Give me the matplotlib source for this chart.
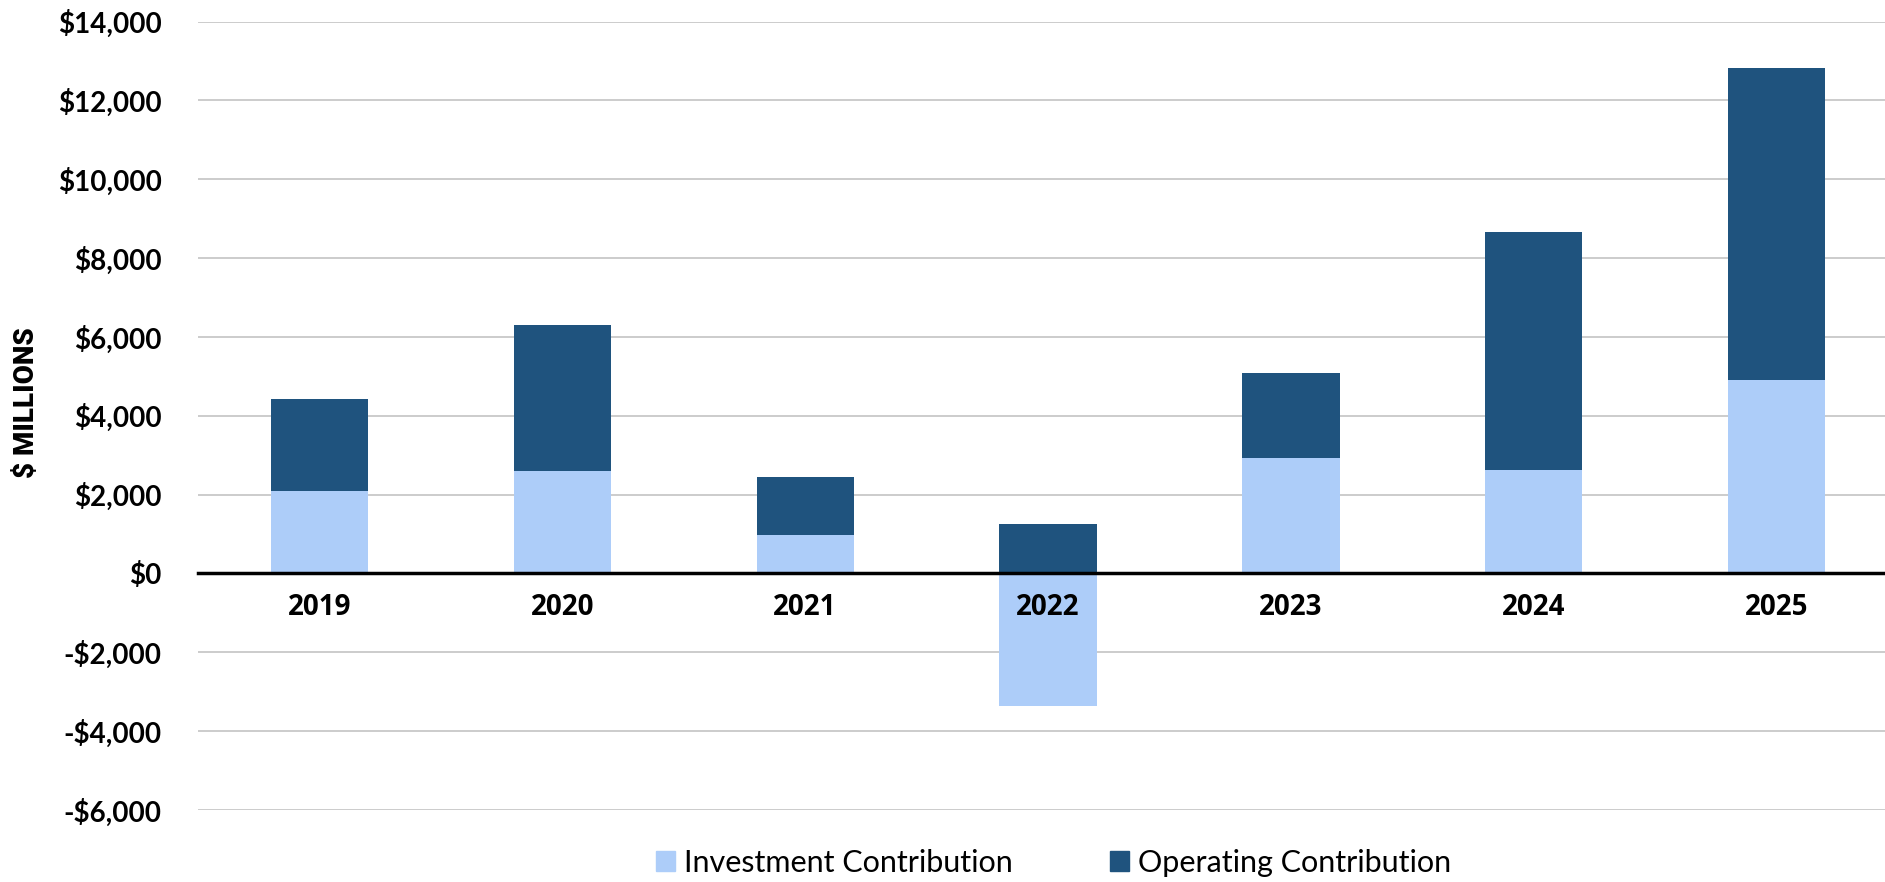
import matplotlib
matplotlib.use("Agg")
import matplotlib.pyplot as plt
import numpy as np
from matplotlib.patches import Patch

# data ($ millions)
years = ["2019", "2020", "2021", "2022", "2023", "2024", "2025"]
investment = [2080, 2600, 965, -3360, 2940, 2620, 4920]
operating = [2350, 3700, 1490, 1245, 2140, 6040, 7900]
y_ticks = [-6000, -4000, -2000, 0, 2000, 4000, 6000, 8000, 10000, 12000, 14000]

light = "#ADCDF9"
dark = "#1F537E"

def money(v, pos=None):
	if v < 0:
		return "-${:,.0f}".format(-v)
	return "${:,.0f}".format(v)

fig = plt.figure(figsize=(18.85, 8.82), dpi=100)
ax = fig.add_axes([0.105, 0.0816, 0.902, 0.894])

x = np.arange(len(years))
inv = np.array(investment)
op = np.array(operating)
# operating sits on top of investment, or on zero when investment is negative
base = np.where(inv > 0, inv, 0)
ax.bar(x, inv, width=0.4, color=light, zorder=1)
ax.bar(x, op, width=0.4, bottom=base, color=dark, zorder=1)

ax.set_xlim(-0.5, len(years) - 0.5)
ax.set_ylim(y_ticks[0], y_ticks[-1])
ax.set_yticks(y_ticks)
ax.yaxis.set_major_formatter(plt.FuncFormatter(money))
ax.grid(axis="y", color="#c8c8c8", linewidth=1.3)
ax.set_axisbelow(True)

for s in ["top", "right", "left"]:
	ax.spines[s].set_visible(False)
ax.spines["bottom"].set_position(("data", 0))
ax.spines["bottom"].set_color("black")
ax.spines["bottom"].set_linewidth(2.5)
ax.spines["bottom"].set_zorder(3)
ax.xaxis.set_zorder(3)

ax.set_xticks(x)
ax.set_xticklabels(years, fontsize=20, fontweight="bold", family="Open Sans")
ax.tick_params(axis="x", length=0, pad=14)
ax.tick_params(axis="y", length=0, pad=26)
for t in ax.get_yticklabels():
	t.set_fontsize(20)
	t.set_fontweight("bold")
	t.set_family("Lato")

fig.text(0.014, 0.543, "$ MILLIONS", rotation=90, fontsize=20, fontweight="heavy",
	family="Roboto", ha="center", va="center", stretch="condensed")

handles = [Patch(color=light, label="Investment Contribution"),
	Patch(color=dark, label="Operating Contribution")]
fig.legend(handles=handles, loc="center", bbox_to_anchor=(0.559, 0.022), ncol=2,
	frameon=False, prop={"family": "Lato", "size": 22}, handlelength=0.6,
	handleheight=0.6, handletextpad=0.3, columnspacing=3.2)

fig.savefig("out.png", dpi=100)
